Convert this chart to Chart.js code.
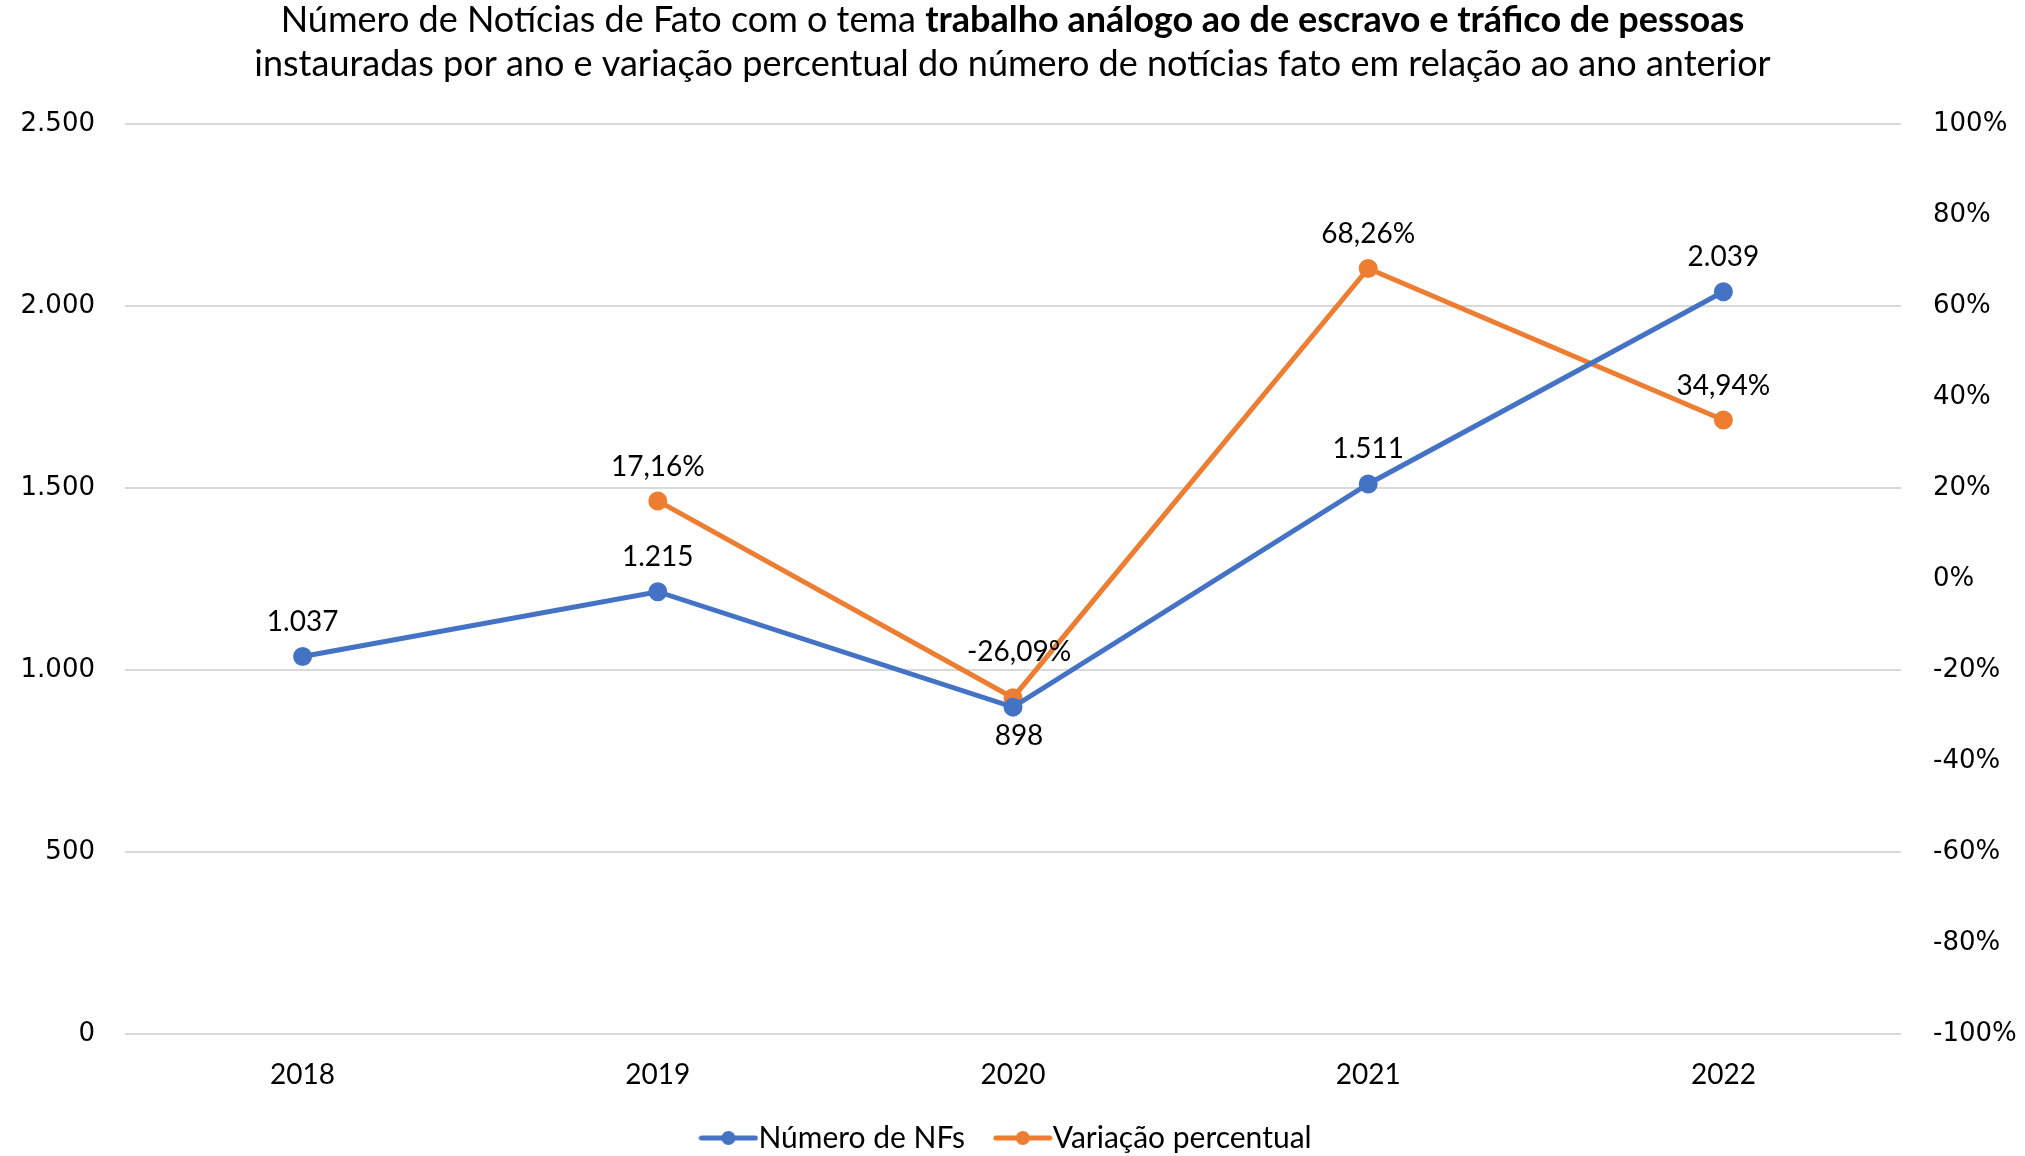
<!DOCTYPE html>
<html>
<head>
<meta charset="utf-8">
<script src="https://cdn.jsdelivr.net/npm/chart.js@4"></script>
<style>
	html, body { margin: 0; padding: 0; background: #ffffff; }
	#grafik { display: block; }
</style>
</head>
<body>
<canvas id="grafik" width="2025" height="1156"></canvas>
<script>
var anos = ['2018', '2019', '2020', '2021', '2022'];
var numeroNFs = [1037, 1215, 898, 1511, 2039];
var variacao = [null, 17.16, -26.09, 68.26, 34.94];
var labelNFs = ['1.037', '1.215', '898', '1.511', '2.039'];
var labelVar = ['', '17,16%', '-26,09%', '68,26%', '34,94%'];
var ticksEsq = ['0', '500', '1.000', '1.500', '2.000', '2.500'];

var azul = '#4472C4';
var laranja = '#ED7D31';
var fundoPlot = 1034;
var descerLegenda = 7;

function iconeLegenda(cor) {
	var c = document.createElement('canvas');
	c.width = 60;
	c.height = 16;
	var g = c.getContext('2d');
	g.strokeStyle = cor;
	g.lineWidth = 5;
	g.lineCap = 'round';
	g.beginPath();
	g.moveTo(3, 8);
	g.lineTo(57, 8);
	g.stroke();
	g.fillStyle = cor;
	g.beginPath();
	g.arc(30, 8, 7, 0, Math.PI * 2);
	g.fill();
	return c;
}

// titulo com parte em negrito
var tituloPlugin = {
	id: 'titulo',
	afterDraw: function (chart) {
		var ctx = chart.ctx;
		var w = chart.width;
		ctx.save();
		ctx.fillStyle = '#000000';
		ctx.textBaseline = 'middle';
		var p1 = 'Número de Notícias de Fato com o tema ';
		var p2 = 'trabalho análogo ao de escravo e tráfico de pessoas';
		ctx.font = '36px Lato';
		var w1 = ctx.measureText(p1).width;
		ctx.font = 'bold 36px Lato';
		var w2 = ctx.measureText(p2).width;
		var x0 = (w - w1 - w2) / 2;
		ctx.font = '36px Lato';
		ctx.textAlign = 'left';
		ctx.fillText(p1, x0, 20);
		ctx.font = 'bold 36px Lato';
		ctx.fillText(p2, x0 + w1, 20);
		ctx.font = '36px Lato';
		ctx.textAlign = 'center';
		ctx.fillText('instauradas por ano e variação percentual do número de notícias fato em relação ao ano anterior', w / 2, 64);
		ctx.restore();
	}
};

// rotulos dos pontos
var rotulosPlugin = {
	id: 'rotulos',
	afterDatasetsDraw: function (chart) {
		var ctx = chart.ctx;
		ctx.save();
		ctx.fillStyle = '#000000';
		ctx.font = '28px Lato';
		ctx.textAlign = 'center';
		var m0 = chart.getDatasetMeta(0);
		var m1 = chart.getDatasetMeta(1);
		for (var i = 0; i < anos.length; i++) {
			var p = m0.data[i];
			if (numeroNFs[i] === 898) {
				ctx.textBaseline = 'top';
				ctx.fillText(labelNFs[i], p.x + 6, p.y + 15);
			} else {
				ctx.textBaseline = 'bottom';
				ctx.fillText(labelNFs[i], p.x, p.y - 21);
			}
			if (variacao[i] !== null) {
				var q = m1.data[i];
				ctx.textBaseline = 'bottom';
				if (variacao[i] < 0) {
					ctx.fillText(labelVar[i], q.x + 6, q.y - 32);
				} else {
					ctx.fillText(labelVar[i], q.x, q.y - 20);
				}
			}
		}
		ctx.restore();
	}
};

var ctx = document.getElementById('grafik').getContext('2d');
var myChart = new Chart(ctx, {
	type: 'line',
	data: {
		labels: anos,
		datasets: [{
			label: 'Número de NFs',
			data: numeroNFs,
			borderColor: azul,
			backgroundColor: azul,
			borderWidth: 5,
			pointRadius: 7,
			pointHoverRadius: 7,
			fill: false,
			tension: 0,
			yAxisID: 'y'
		}, {
			label: 'Variação percentual',
			data: variacao,
			borderColor: laranja,
			backgroundColor: laranja,
			borderWidth: 5,
			pointRadius: 7,
			pointHoverRadius: 7,
			fill: false,
			tension: 0,
			yAxisID: 'y1'
		}]
	},
	options: {
		responsive: false,
		animation: false,
		layout: { padding: { top: 124, left: 0, right: 0, bottom: -descerLegenda } },
		plugins: {
			title: { display: false },
			tooltip: { enabled: false },
			legend: {
				position: 'bottom',
				labels: {
					usePointStyle: true,
					padding: 12,
					color: '#000000',
					font: { family: 'Lato', size: 30 },
					generateLabels: function (chart) {
						return chart.data.datasets.map(function (ds, i) {
							return {
								text: i === 0 ? ds.label + '    ' : ds.label,
								pointStyle: iconeLegenda(ds.borderColor),
								fillStyle: ds.borderColor,
								strokeStyle: ds.borderColor,
								lineWidth: 0,
								datasetIndex: i,
								fontColor: '#000000'
							};
						});
					}
				}
			}
		},
		scales: {
			x: {
				offset: true,
				grid: { display: true, drawOnChartArea: false, tickLength: 8, color: 'rgba(0,0,0,0)' },
				border: { display: false },
				ticks: { color: '#000000', font: { family: 'Lato', size: 28 }, padding: 16 },
				afterFit: function (scale) {
					var lh = scale.chart.legend ? scale.chart.legend.height : 0;
					scale.height = scale.chart.height + descerLegenda - fundoPlot - lh;
				}
			},
			y: {
				position: 'left',
				min: 0,
				max: 2500,
				ticks: {
					stepSize: 500,
					color: '#000000',
					padding: 30,
					font: { family: 'DejaVu Sans', size: 26 },
					callback: function (v) { return ticksEsq[v / 500]; }
				},
				grid: { color: '#d9d9d9', lineWidth: 2, drawTicks: false },
				border: { display: false },
				afterFit: function (scale) { scale.width = 125; }
			},
			y1: {
				position: 'right',
				min: -100,
				max: 100,
				ticks: {
					stepSize: 20,
					color: '#000000',
					padding: 24,
					font: { family: 'DejaVu Sans', size: 26 },
					callback: function (v) { return v + '%'; }
				},
				grid: { display: false },
				border: { display: false },
				afterFit: function (scale) { scale.width = 124; }
			}
		}
	},
	plugins: [tituloPlugin, rotulosPlugin]
});
</script>
</body>
</html>
